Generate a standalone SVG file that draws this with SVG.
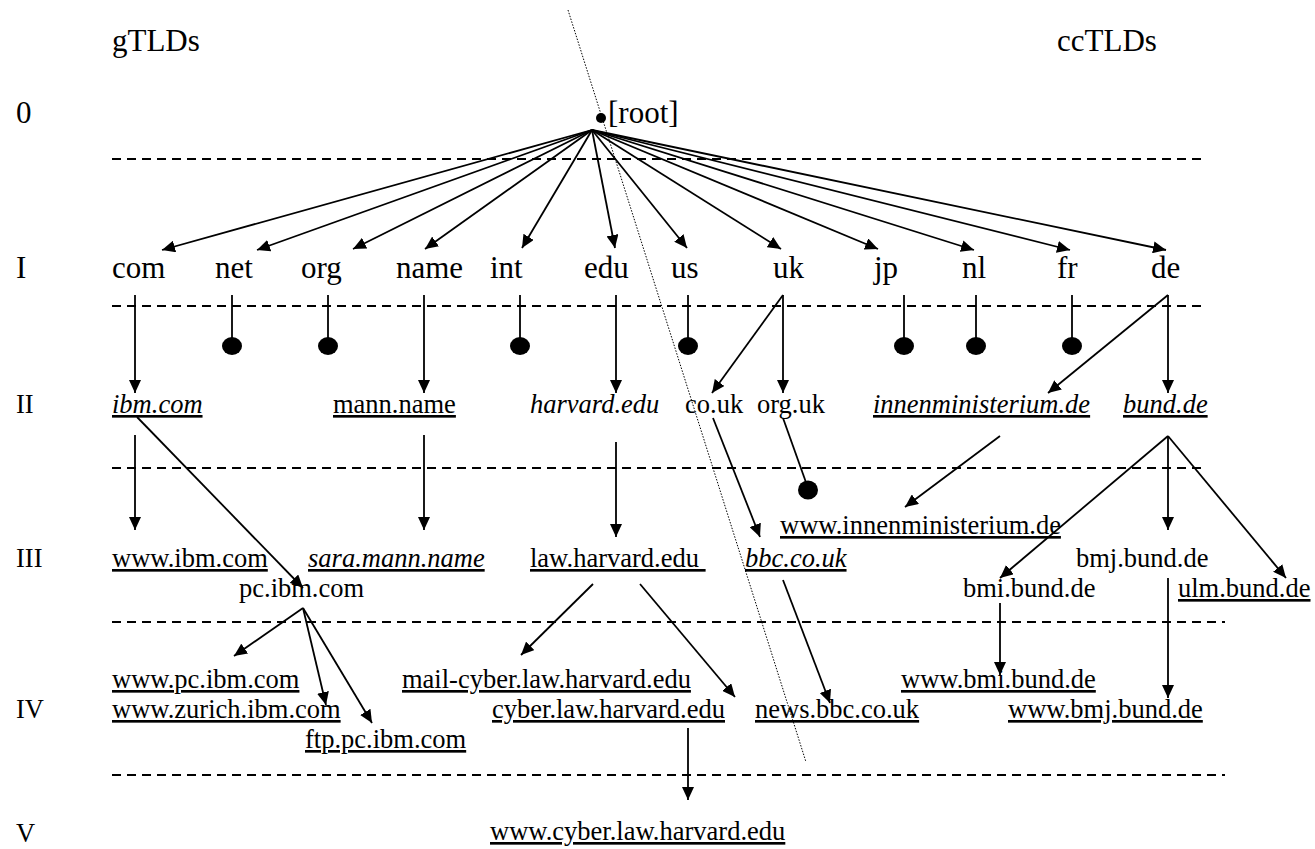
<svg xmlns="http://www.w3.org/2000/svg" width="1315" height="849" viewBox="0 0 1315 849">
<style>
text{font-family:"Liberation Serif","Times New Roman",serif;fill:#000}
.L{font-size:31px}
.S{font-size:26.5px}
.i{font-style:italic}
.u{text-decoration:underline}
.e{stroke:#000;stroke-width:1.8;fill:none}
.a{marker-end:url(#ah)}
.lay{stroke:#000;stroke-width:2;stroke-dasharray:9 6;fill:none}
.dot{stroke:#000;stroke-width:1;stroke-dasharray:1.5 1.5;fill:none}
.b{fill:#000}
</style>
<defs>
<marker id="ah" markerUnits="userSpaceOnUse" markerWidth="14" markerHeight="12" refX="13" refY="6" orient="auto">
<path d="M0,0 L13,6 L0,12 z" fill="#000"/>
</marker>
</defs>
<rect width="1315" height="849" fill="#fff"/>
<g id="layers">
<line class="lay" x1="112" y1="159" x2="1204" y2="159"/>
<line class="lay" x1="112" y1="306" x2="1204" y2="306"/>
<line class="lay" x1="112" y1="468" x2="1206" y2="468"/>
<line class="lay" x1="112" y1="622" x2="1225" y2="622"/>
<line class="lay" x1="112" y1="775" x2="1225" y2="775"/>
</g>
<g id="divider">
<line class="dot" x1="568" y1="10" x2="806" y2="762"/>
</g>
<g id="labels">
<text class="L" x="112" y="51">gTLDs</text>
<text class="L" x="1057" y="51">ccTLDs</text>
<text class="L" x="16" y="123">0</text>
<text class="L" x="16" y="278">I</text>
<text class="S" x="16" y="413">II</text>
<text class="S" x="16" y="567">III</text>
<text class="S" x="16" y="718">IV</text>
<text class="S" x="16" y="842">V</text>
</g>
<g id="connectors">
<line class="e a" x1="592" y1="130" x2="162" y2="250"/>
<line class="e a" x1="592" y1="130" x2="257" y2="250"/>
<line class="e a" x1="592" y1="130" x2="353" y2="249"/>
<line class="e a" x1="592" y1="130" x2="425" y2="249"/>
<line class="e a" x1="592" y1="130" x2="522" y2="248"/>
<line class="e a" x1="592" y1="130" x2="615" y2="248"/>
<line class="e a" x1="592" y1="130" x2="687" y2="248"/>
<line class="e a" x1="592" y1="130" x2="781" y2="249"/>
<line class="e a" x1="592" y1="130" x2="878" y2="249"/>
<line class="e a" x1="592" y1="130" x2="974" y2="250"/>
<line class="e a" x1="592" y1="130" x2="1070" y2="250"/>
<line class="e a" x1="592" y1="130" x2="1166" y2="250"/>
<line class="e a" x1="135" y1="295" x2="135" y2="393"/>
<line class="e" x1="232" y1="295" x2="232" y2="340"/>
<line class="e" x1="328" y1="295" x2="328" y2="340"/>
<line class="e a" x1="424" y1="295" x2="424" y2="393"/>
<line class="e" x1="520" y1="295" x2="520" y2="340"/>
<line class="e a" x1="616" y1="295" x2="616" y2="393"/>
<line class="e" x1="688" y1="295" x2="688" y2="340"/>
<line class="e a" x1="783" y1="295" x2="712" y2="393"/>
<line class="e a" x1="783" y1="295" x2="783" y2="393"/>
<line class="e" x1="904" y1="295" x2="904" y2="340"/>
<line class="e" x1="976" y1="295" x2="976" y2="340"/>
<line class="e" x1="1072" y1="295" x2="1072" y2="340"/>
<line class="e a" x1="1168" y1="295" x2="1048" y2="393"/>
<line class="e a" x1="1168" y1="295" x2="1168" y2="393"/>
<line class="e a" x1="135" y1="435" x2="135" y2="530"/>
<line class="e a" x1="137" y1="417" x2="303" y2="588"/>
<line class="e a" x1="424" y1="435" x2="424" y2="530"/>
<line class="e a" x1="616" y1="442" x2="616" y2="537"/>
<line class="e a" x1="713" y1="418" x2="760" y2="537"/>
<line class="e" x1="783" y1="418" x2="808" y2="488"/>
<line class="e a" x1="1000" y1="436" x2="905" y2="507"/>
<line class="e a" x1="1168" y1="436" x2="1168" y2="530"/>
<line class="e a" x1="1168" y1="436" x2="1000" y2="578"/>
<line class="e a" x1="1168" y1="436" x2="1286" y2="578"/>
<line class="e a" x1="303" y1="608" x2="234" y2="656"/>
<line class="e a" x1="303" y1="608" x2="326" y2="705"/>
<line class="e a" x1="303" y1="608" x2="372" y2="723"/>
<line class="e a" x1="593" y1="584" x2="521" y2="655"/>
<line class="e a" x1="640" y1="584" x2="735" y2="697"/>
<line class="e a" x1="783" y1="580" x2="830" y2="703"/>
<line class="e a" x1="1000" y1="603" x2="1000" y2="675"/>
<line class="e a" x1="1168" y1="578" x2="1168" y2="698"/>
<line class="e a" x1="688" y1="728" x2="688" y2="800"/>
<ellipse class="b" cx="232" cy="346" rx="10" ry="9"/>
<ellipse class="b" cx="328" cy="346" rx="10" ry="9"/>
<ellipse class="b" cx="520" cy="346" rx="10" ry="9"/>
<ellipse class="b" cx="688" cy="346" rx="10" ry="9"/>
<ellipse class="b" cx="904" cy="346" rx="10" ry="9"/>
<ellipse class="b" cx="976" cy="346" rx="10" ry="9"/>
<ellipse class="b" cx="1072" cy="346" rx="10" ry="9"/>
<ellipse class="b" cx="808" cy="490" rx="10" ry="9.5"/>
</g>
<g id="n-root"><ellipse class="b" cx="601" cy="118" rx="5" ry="5"/><text class="L" x="608" y="123">[root]</text></g>
<g id="n-com"><text class="L" x="112" y="278">com</text></g>
<g id="n-net"><text class="L" x="215" y="278">net</text></g>
<g id="n-org"><text class="L" x="301" y="278">org</text></g>
<g id="n-name"><text class="L" x="396" y="278">name</text></g>
<g id="n-int"><text class="L" x="490" y="278">int</text></g>
<g id="n-edu"><text class="L" x="584" y="278">edu</text></g>
<g id="n-us"><text class="L" x="671" y="278">us</text></g>
<g id="n-uk"><text class="L" x="773" y="278">uk</text></g>
<g id="n-jp"><text class="L" x="874" y="278">jp</text></g>
<g id="n-nl"><text class="L" x="962" y="278">nl</text></g>
<g id="n-fr"><text class="L" x="1057" y="278">fr</text></g>
<g id="n-de"><text class="L" x="1151" y="278">de</text></g>
<g id="n-ibm"><text class="S i u" x="112" y="413">ibm.com</text></g>
<g id="n-mann"><text class="S u" x="333" y="413">mann.name</text></g>
<g id="n-harvard"><text class="S i" x="530" y="413">harvard.edu</text></g>
<g id="n-couk"><text class="S" x="685" y="413">co.uk</text></g>
<g id="n-orguk"><text class="S" x="757" y="413">org.uk</text></g>
<g id="n-innen"><text class="S i u" x="873" y="413">innenministerium.de</text></g>
<g id="n-bund"><text class="S i u" x="1123" y="413">bund.de</text></g>
<g id="n-wwwibm"><text class="S u" x="112" y="567">www.ibm.com</text></g>
<g id="n-pcibm"><text class="S" x="239" y="597">pc.ibm.com</text></g>
<g id="n-sara"><text class="S i u" x="308" y="567">sara.mann.name</text></g>
<g id="n-law"><text class="S u" x="530" y="567" xml:space="preserve">law.harvard.edu </text></g>
<g id="n-bbc"><text class="S i u" x="745" y="567">bbc.co.uk</text></g>
<g id="n-wwwinnen"><text class="S u" x="780" y="534">www.innenministerium.de</text></g>
<g id="n-bmj"><text class="S" x="1076" y="567">bmj.bund.de</text></g>
<g id="n-bmi"><text class="S" x="963" y="597">bmi.bund.de</text></g>
<g id="n-ulm"><text class="S u" x="1178" y="597">ulm.bund.de</text></g>
<g id="n-wwwpc"><text class="S u" x="112" y="688">www.pc.ibm.com</text></g>
<g id="n-zurich"><text class="S u" x="112" y="718">www.zurich.ibm.com</text></g>
<g id="n-ftp"><text class="S u" x="305" y="748">ftp.pc.ibm.com</text></g>
<g id="n-mail"><text class="S u" x="402" y="688">mail-cyber.law.harvard.edu</text></g>
<g id="n-cyber"><text class="S u" x="492" y="718">cyber.law.harvard.edu</text></g>
<g id="n-news"><text class="S u" x="755" y="718">news.bbc.co.uk</text></g>
<g id="n-wwwbmi"><text class="S u" x="901" y="688">www.bmi.bund.de</text></g>
<g id="n-wwwbmj"><text class="S u" x="1008" y="718">www.bmj.bund.de</text></g>
<g id="n-wwwcyber"><text class="S u" x="490" y="840">www.cyber.law.harvard.edu</text></g>
</svg>
